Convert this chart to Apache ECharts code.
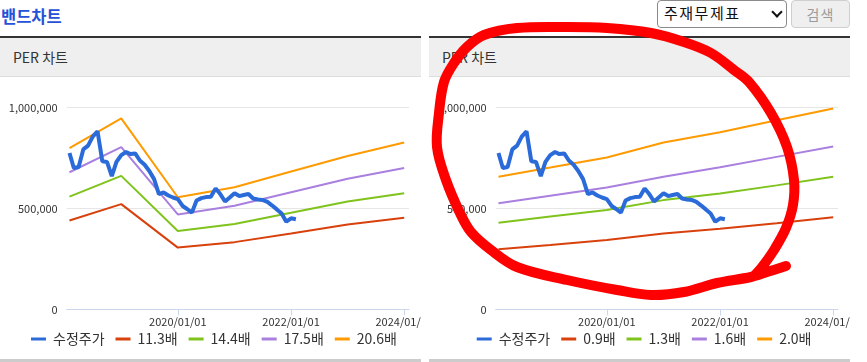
<!DOCTYPE html>
<html>
<head>
<meta charset="utf-8">
<script src="https://cdn.jsdelivr.net/npm/echarts@6/dist/echarts.min.js"></script>
<style>
  html, body { margin: 0; padding: 0; background: #fff; }
  body { width: 867px; height: 362px; position: relative; overflow: hidden; font-family: 'Noto Sans CJK KR', 'Noto Sans', sans-serif; }
  .abs { position: absolute; }
  #title { left: 1px; top: 6px; font-size: 16.5px; line-height: 20px; font-weight: bold; color: #2552d8; }
  .topline { top: 36px; height: 2px; background: #333; width: 421px; }
  .head { top: 38px; height: 38px; background: #efefef; border-bottom: 1px solid #dcdcdc; width: 421px; }
  .head span { position: absolute; left: 13px; top: 10px; font-size: 14px; line-height: 18px; color: #333; }
  .botline { top: 359px; height: 3px; background: #cccccc; width: 421px; }
  #sel { left: 657px; top: 0px; width: 128px; height: 26px; border: 1px solid #8a8a8a; border-radius: 4px; background: #fff; }
  #sel span { position: absolute; left: 6px; top: 2px; font-size: 15px; line-height: 20px; letter-spacing: 1.5px; color: #111; }
  #chev { left: 115px; top: 7px; width: 6px; height: 6px; border-right: 2.5px solid #111; border-bottom: 2.5px solid #111; transform: rotate(45deg); }
  #btn { left: 791px; top: 0px; width: 57px; height: 26px; border: 1px solid #cfcfcf; border-radius: 4px; background: #efefef; }
  #btn span { position: absolute; left: 0; width: 57px; text-align: center; top: 3px; font-size: 14px; line-height: 20px; color: #9a9a9a; letter-spacing: 1px; }
  .chart { top: 0; height: 362px; width: 421px; }
</style>
</head>
<body>
<div id="title" class="abs">밴드차트</div>
<div class="abs topline" style="left:0"></div>
<div class="abs topline" style="left:429px"></div>
<div class="abs head" style="left:0"><span>PER 차트</span></div>
<div class="abs head" style="left:429px"><span>PER 차트</span></div>
<div class="abs botline" style="left:0"></div>
<div class="abs botline" style="left:429px"></div>
<div id="sel" class="abs"><span>주재무제표</span><div id="chev" class="abs"></div></div>
<div id="btn" class="abs"><span>검색</span></div>
<div id="c1" class="abs chart" style="left:0"></div>
<div id="c2" class="abs chart" style="left:429px"></div>
<script>
// ---- data ----
const priceDates = ['2018-02-01','2018-03-01','2018-04-01','2018-05-01','2018-06-01','2018-07-01','2018-08-01','2018-09-01','2018-10-01','2018-11-01','2018-12-01',
  '2019-01-01','2019-02-01','2019-03-01','2019-04-01','2019-05-01','2019-06-01','2019-07-01','2019-08-01','2019-09-01','2019-10-01','2019-11-01','2019-12-01',
  '2020-01-01','2020-02-01','2020-03-01','2020-04-01','2020-05-01','2020-06-01','2020-07-01','2020-08-01','2020-09-01','2020-10-01','2020-11-01','2020-12-01',
  '2021-01-01','2021-02-01','2021-03-01','2021-04-01','2021-05-01','2021-06-01','2021-07-01','2021-08-01','2021-09-01','2021-10-01','2021-11-01','2021-12-01',
  '2022-01-01','2022-02-01'];
const priceValues = [774000,700000,705000,792000,811000,855000,882000,733000,730000,660000,730000,
  764000,779000,769000,772000,737000,716000,685000,645000,571000,579000,564000,554000,
  546000,512000,497000,479000,539000,551000,556000,558000,599000,571000,534000,554000,
  575000,561000,566000,571000,549000,544000,542000,532000,514000,495000,475000,434000,
  451000,446000];

const bandDates = ['2018-02-01','2019-01-01','2020-01-01','2021-01-01','2022-01-01','2023-01-01','2024-01-01'];
const perNames = ['11.3배','14.4배','17.5배','20.6배'];
const per113 = [440000,521000,306000,333000,376000,420000,454000];
const per144 = [558000,661000,388000,423000,478000,534000,575000];
const per175 = [679000,803000,470000,513000,580000,647000,700000];
const per206 = [798000,946000,555000,605000,683000,759000,826000];

const pbrNames = ['0.9배','1.3배','1.6배','2.0배'];
const pbr09 = [298000,319000,343000,376000,399000,426000,456000];
const pbr13 = [429000,460000,492000,541000,574000,614000,657000];
const pbr16 = [526000,563000,603000,657000,704000,755000,806000];
const pbr20 = [657000,702000,752000,826000,877000,936000,995000];

const priceName = '수정주가';
const xTickDates = ['2020-01-01','2022-01-01','2024-01-01'];
const xMin = '2018-01-14', xMax = '2024-02-01';
const yMin = 0, yMax = 1000000, yStep = 500000;

const colors = { price: '#2a6bd9', b1: '#d8400c', b2: '#7fc31c', b3: '#a97fdf', b4: '#ff9a00' };

// ---- build ----
const ts = d => Date.parse(d + 'T00:00:00Z');
const pad = n => (n < 10 ? '0' : '') + n;
function fmtDate(v) { const d = new Date(v); return d.getUTCFullYear() + '/' + pad(d.getUTCMonth() + 1) + '/' + pad(d.getUTCDate()); }
function pairs(dates, vals) { return dates.map((d, i) => [ts(d), vals[i]]); }

function makeOption(names, bands, legendLeft, extraGraphic) {
  const bandColors = [colors.b1, colors.b2, colors.b3, colors.b4];
  const series = [{
    name: priceName, type: 'line', data: pairs(priceDates, priceValues), showSymbol: false, z: 5,
    lineStyle: { width: 4, color: colors.price }, itemStyle: { color: colors.price }, emphasis: { disabled: true }
  }];
  bands.forEach((b, i) => series.push({
    name: names[i], type: 'line', data: pairs(bandDates, b), showSymbol: false, z: 2,
    lineStyle: { width: 2, color: bandColors[i] }, itemStyle: { color: bandColors[i] }, emphasis: { disabled: true }
  }));
  const tickVals = xTickDates.map(ts);
  return {
    animation: false,
    textStyle: { fontFamily: "'Noto Sans CJK KR', 'Noto Sans', sans-serif" },
    grid: { left: 66.7, right: 12, top: 107.4, bottom: 52.6, outerBoundsMode: 'none', containLabel: false },
    xAxis: {
      type: 'value', min: ts(xMin), max: ts(xMax), scale: true,
      axisLine: { show: true, lineStyle: { color: '#ccd6eb', width: 1 } },
      axisTick: { show: true, length: 6, lineStyle: { color: '#ccd6eb' }, customValues: tickVals },
      axisLabel: { customValues: tickVals, formatter: v => fmtDate(v), color: '#333', fontSize: 11, margin: 7 },
      splitLine: { show: false }
    },
    yAxis: {
      type: 'value', min: yMin, max: yMax, interval: yStep,
      axisLine: { show: false }, axisTick: { show: false },
      axisLabel: { formatter: v => Number(v).toLocaleString('en-US'), color: '#333', fontSize: 11, margin: 9 },
      splitLine: { lineStyle: { color: '#e6e6e6', width: 1 } }
    },
    legend: {
      left: legendLeft, top: 332, padding: 0, icon: 'rect', itemWidth: 15, itemHeight: 3, itemGap: 11,
      textStyle: { fontSize: 14, color: '#333', padding: [0, 0, 0, 2] },
      data: [priceName].concat(names)
    },
    series: series,
    graphic: extraGraphic || []
  };
}

// hand-drawn red annotation around the right chart (page coordinates, shifted into right panel)
const circlePts = [[754,276],[762,267],[774,250],[786,228],[793,205],[794,180],[787,147],[771,113],[749,82],[734,70],[711,53],[684,42],[651,33],[607,28],[567,27],[517,28],[484,35],[467,47],[454,63],[444,82],[439,113],[437,147],[446,180],[460,213],[471,232],[491,250],[517,267],[567,280],[617,290],[651,295],[684,292],[717,283],[751,277],[767,272],[786,266]];

const c1 = echarts.init(document.getElementById('c1'), null, { renderer: 'canvas' });
c1.setOption(makeOption(perNames, [per113, per144, per175, per206], 31));

const c2 = echarts.init(document.getElementById('c2'), null, { renderer: 'canvas' });
c2.setOption(makeOption(pbrNames, [pbr09, pbr13, pbr16, pbr20], 47.7, [{
  type: 'polyline', z: 100, silent: true,
  shape: { points: circlePts.map(p => [p[0] - 429, p[1]]), smooth: 0.35 },
  style: { stroke: '#ff0000', lineWidth: 10, fill: null, lineCap: 'round', lineJoin: 'round' }
}]));
</script>
</body>
</html>
